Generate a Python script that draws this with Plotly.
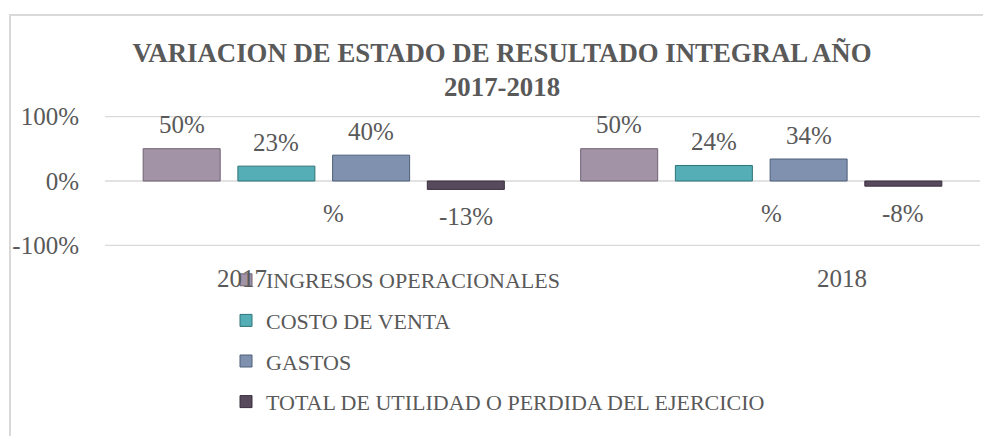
import plotly.graph_objects as go

# ---- data ----
categories = ["2017", "2018"]
series_names = ["INGRESOS OPERACIONALES", "COSTO DE VENTA", "GASTOS",
                "TOTAL DE UTILIDAD O PERDIDA DEL EJERCICIO"]
ingresos = [0.50, 0.50]
costo = [0.23, 0.24]
gastos = [0.40, 0.34]
total = [-0.13, -0.08]
extra_labels = ["%", "%"]
y_tickvals = [-1, 0, 1]
y_ticktext = ["-100%", "0%", "100%"]
title_text = "VARIACION DE ESTADO DE RESULTADO INTEGRAL AÑO<br>2017-2018"

series_values = [ingresos, costo, gastos, total]
colors = ["#A293A6", "#55AEB5", "#7F91AE", "#584A5D"]
edge_colors = ["#6E6172", "#2F7479", "#4E5E78", "#3A2F3E"]

FONT = "Liberation Serif"
TXT = "#595959"
GRID = "#D9D9D9"

W, H = 983, 436
L, R, T, B = 105, 3, 116, 190
plot_w = W - L - R
plot_h = H - T - B
YR = 1.006

BARGAP = 0.134
BARGROUPGAP = 0.187
slot = (1 - BARGAP) / len(series_values)

fig = go.Figure()
for j, (name, vals) in enumerate(zip(series_names, series_values)):
    fig.add_trace(go.Bar(
        name=name, x=categories, y=vals,
        marker=dict(color=colors[j], line=dict(color=edge_colors[j], width=1)),
        legendgroup=name,
    ))

annotations = []
for j, vals in enumerate(series_values):
    for i, v in enumerate(vals):
        annotations.append(dict(
            x=i + (j - 1.5) * slot, y=v, xref="x", yref="y",
            text=f"{round(v * 100):d}%", showarrow=False,
            yanchor="middle", xanchor="center",
            yshift=24 if v >= 0 else -27,
            font=dict(family=FONT, size=25, color=TXT),
        ))
for i, t in enumerate(extra_labels):
    annotations.append(dict(
        x=i + 0.023, y=-0.5, xref="x", yref="y", text=t, showarrow=False,
        yanchor="middle", font=dict(family=FONT, size=25, color=TXT),
    ))
cat_offsets = [-0.188, 0.184]
for i, c in enumerate(categories):
    annotations.append(dict(
        x=i + cat_offsets[i], y=(246 - 278.5) / plot_h, xref="x", yref="paper",
        text=c, showarrow=False, yanchor="middle", xanchor="center",
        font=dict(family=FONT, size=25, color=TXT),
    ))

def px_x(p):
    return (p - L) / plot_w

def px_y(p):
    return (T + plot_h - p) / plot_h

shapes = [dict(type="rect", xref="paper", yref="paper",
               x0=px_x(10), x1=px_x(995), y0=px_y(450), y1=px_y(15),
               line=dict(color=GRID, width=2), fillcolor="rgba(0,0,0,0)",
               layer="below")]
for tv in y_tickvals:
    shapes.append(dict(type="line", xref="paper", yref="y", x0=0, x1=1, y0=tv, y1=tv,
                       line=dict(color=GRID, width=1.5), layer="below"))

fig.update_layout(
    width=W, height=H, autosize=False,
    margin=dict(l=L, r=R, t=T, b=B, pad=0),
    paper_bgcolor="white", plot_bgcolor="white",
    barmode="group", bargap=BARGAP, bargroupgap=BARGROUPGAP,
    title=dict(text=f"<b>{title_text}</b>", x=502 / W, xref="container",
               xanchor="center", y=1 - 61.5 / H, yref="container", yanchor="middle",
               font=dict(family=FONT, size=26.8, color=TXT)),
    xaxis=dict(showticklabels=False, showgrid=False, zeroline=False,
               showline=False, ticks=""),
    yaxis=dict(range=[-YR, YR], tickvals=y_tickvals, ticktext=y_ticktext,
               showgrid=False, zeroline=False,
               showline=False, ticks="outside", ticklen=20, tickcolor="rgba(0,0,0,0)",
               tickfont=dict(family=FONT, size=25, color=TXT)),
    showlegend=True,
    legend=dict(orientation="v", x=px_x(226), y=px_y(259), xanchor="left", yanchor="top",
                xref="paper", yref="paper", bgcolor="rgba(0,0,0,0)",
                traceorder="grouped", tracegroupgap=9, itemwidth=30,
                font=dict(family=FONT, size=22, color=TXT)),
    annotations=annotations,
    shapes=shapes,
)

fig.write_html("out.html", config={"displayModeBar": False},
               post_script="document.body.style.margin='0px';document.body.style.overflow='hidden';")
